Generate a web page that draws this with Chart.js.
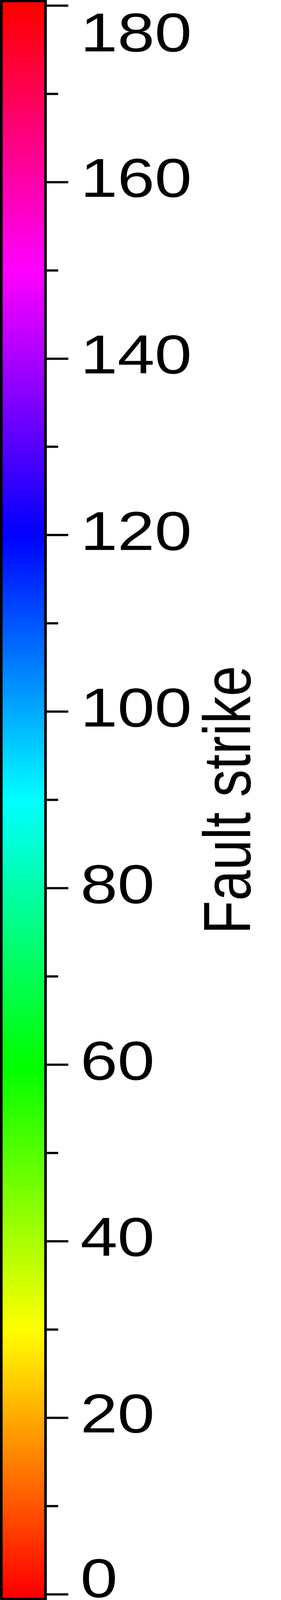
<!DOCTYPE html>
<html>
<head>
<meta charset="utf-8">
<script src="https://cdn.jsdelivr.net/npm/chart.js@4.4.1/dist/chart.umd.min.js"></script>
<style>
  html, body { margin: 0; padding: 0; background: #fff; overflow: hidden; }
  /* drawn at 720x4984, shown in whatever height the window gives */
  #cbar { display: block; width: 720px !important; height: 100vh !important; }
</style>
</head>
<body>
<canvas id="cbar" width="720" height="4984" style="width: 720px; height: 100vh;"></canvas>
<script>
// colour bar for fault strike, degrees
const strikeStops = [0, 30, 60, 90, 120, 150, 180];
const stopColors = ['#ff0000', '#ffff00', '#00ff00', '#00ffff', '#0000ff', '#ff00ff', '#ff0000'];
const barExtent = [-0.65, 180.63];
const majorTicks = [0, 20, 40, 60, 80, 100, 120, 140, 160, 180];
const minorTicks = [10, 30, 50, 70, 90, 110, 130, 150, 170];
const tickLabels = ['0', '20', '40', '60', '80', '100', '120', '140', '160', '180'];
const axisTitle = 'Fault strike';

const FONT = '171px "Liberation Sans", Arial, sans-serif';

function barGradient(context) {
    let chart = context.chart;
    if (!chart.chartArea) {
        return stopColors[0];
    }
    let y = chart.scales.y,
        first = strikeStops[0],
        last = strikeStops[strikeStops.length - 1],
        g = chart.ctx.createLinearGradient(0, y.getPixelForValue(first), 0, y.getPixelForValue(last));
    strikeStops.forEach((s, i) => g.addColorStop((s - first) / (last - first), stopColors[i]));
    return g;
}

// tick labels sit a bit above their tick and are kept inside the bar's height
const textPlugin = {
    id: 'cbarText',
    afterDraw: function (chart) {
        let {ctx, chartArea, scales} = chart;
        let y = scales.y;
        ctx.save();
        ctx.fillStyle = '#000';
        ctx.font = FONT;
        ctx.textAlign = 'left';
        ctx.textBaseline = 'alphabetic';
        majorTicks.forEach((v, i) => {
            let base = y.getPixelForValue(v) + 46;
            base = Math.min(Math.max(base, chartArea.top + 160), chartArea.bottom - 9);
            ctx.fillText(tickLabels[i], chartArea.right + 86, base);
        });
        ctx.translate(chartArea.right + 521, (chartArea.top + chartArea.bottom) / 2);
        ctx.rotate(-Math.PI / 2);
        ctx.textAlign = 'center';
        ctx.fillText(axisTitle, 0, 0);
        ctx.restore();
    }
};

new Chart(document.getElementById('cbar'), {
    type: 'bar',
    data: {
        labels: [axisTitle],
        datasets: [{
            data: [barExtent],
            backgroundColor: barGradient,
            borderColor: '#000',
            borderWidth: 7,
            borderSkipped: false,
            barPercentage: 1,
            categoryPercentage: 1
        }]
    },
    options: {
        responsive: false,
        animation: false,
        devicePixelRatio: 1,
        layout: {padding: 0},
        plugins: {
            legend: {display: false},
            tooltip: {enabled: false}
        },
        scales: {
            x: {display: false},
            y: {
                position: 'right',
                min: barExtent[0],
                max: barExtent[1],
                afterBuildTicks: function (scale) {
                    scale.ticks = majorTicks.concat(minorTicks)
                        .sort((a, b) => a - b)
                        .map(v => ({value: v}));
                },
                afterFit: function (scale) {
                    scale.width = 600;
                },
                ticks: {display: false},
                border: {display: false},
                grid: {
                    drawOnChartArea: false,
                    tickLength: 55,
                    tickWidth: 7,
                    tickColor: '#000',
                    tickBorderDash: c => (c.tick && minorTicks.includes(c.tick.value)) ? [29, 100] : []
                }
            }
        }
    },
    plugins: [textPlugin]
});
</script>
</body>
</html>
